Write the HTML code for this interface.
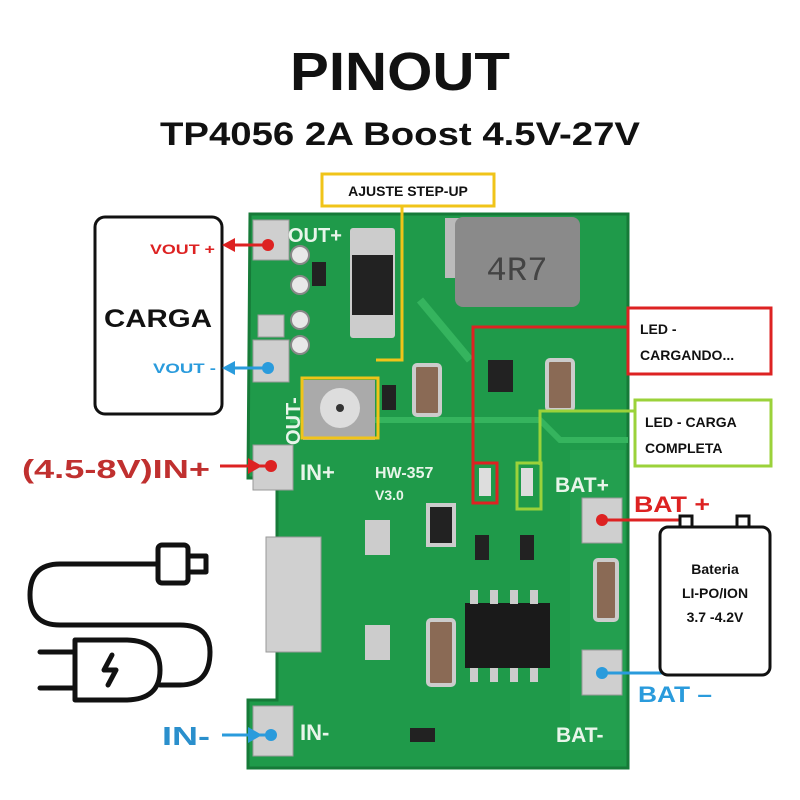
<!DOCTYPE html>
<html><head><meta charset="utf-8"><style>
body{margin:0;background:#fff;}
svg{display:block;font-family:"Liberation Sans",sans-serif;}
</style></head><body>
<svg width="800" height="800" viewBox="0 0 800 800" xmlns="http://www.w3.org/2000/svg">
<rect width="800" height="800" fill="#fff"/>
<text x="290" y="90" font-size="54" font-weight="bold" fill="#111" textLength="220" lengthAdjust="spacingAndGlyphs">PINOUT</text>
<text x="160" y="145" font-size="32" font-weight="bold" fill="#111" textLength="480" lengthAdjust="spacingAndGlyphs">TP4056 2A Boost 4.5V-27V</text>

<!-- PCB -->
<path d="M250,214 H628 V768 H248 V700 H277 V478 H248 Z" fill="#1f9a4a"/>
<path d="M250,214 H628 V768 H248 V700 H277 V478 H248 Z" fill="none" stroke="#167a38" stroke-width="3"/>
<path d="M290,420 H540 L560,440 H628" stroke="#35b45e" stroke-width="6" fill="none"/>
<path d="M420,300 L470,360" stroke="#35b45e" stroke-width="8"/>
<rect x="570" y="450" width="55" height="300" fill="#239f4f"/>
<g fill="#cfcfcf" stroke="#999">
<rect x="253" y="220" width="36" height="40"/>
<rect x="253" y="340" width="36" height="42"/>
<rect x="253" y="445" width="40" height="45"/>
<rect x="253" y="706" width="40" height="50"/>
<rect x="582" y="498" width="40" height="45"/>
<rect x="582" y="650" width="40" height="45"/>
<rect x="258" y="315" width="26" height="22"/>
</g>
<g fill="#e8e8e8" stroke="#888" stroke-width="2">
<circle cx="300" cy="255" r="9"/><circle cx="300" cy="285" r="9"/><circle cx="300" cy="320" r="9"/><circle cx="300" cy="345" r="9"/>
</g>
<circle cx="268" cy="245" r="6" fill="#d22"/>
<circle cx="268" cy="368" r="6" fill="#2a9bdc"/>
<circle cx="271" cy="466" r="6" fill="#d22"/>
<circle cx="271" cy="735" r="6" fill="#2a9bdc"/>
<circle cx="602" cy="520" r="6" fill="#d22"/>
<circle cx="602" cy="673" r="6" fill="#2a9bdc"/>
<rect x="350" y="228" width="45" height="110" fill="#ccc" rx="3"/>
<rect x="352" y="255" width="41" height="60" fill="#222"/>
<rect x="312" y="262" width="14" height="24" fill="#222"/>
<rect x="445" y="218" width="28" height="60" fill="#bbb"/>
<rect x="555" y="236" width="20" height="50" fill="#bbb"/>
<rect x="455" y="217" width="125" height="90" rx="8" fill="#8a8a8a"/>
<text x="517" y="280" text-anchor="middle" font-size="34" fill="#444" font-family="Liberation Mono,monospace">4R7</text>
<g fill="#8a6a55" stroke="#ccc" stroke-width="4">
<rect x="414" y="365" width="26" height="50" rx="3"/>
<rect x="547" y="360" width="26" height="50" rx="3"/>
<rect x="595" y="560" width="22" height="60" rx="3"/>
<rect x="428" y="620" width="26" height="65" rx="3"/>
</g>
<rect x="488" y="360" width="25" height="32" fill="#222"/>
<rect x="428" y="505" width="26" height="40" fill="#222" stroke="#ccc" stroke-width="4"/>
<rect x="303" y="380" width="72" height="60" fill="#aaa"/>
<circle cx="340" cy="408" r="20" fill="#ddd"/>
<circle cx="340" cy="408" r="4" fill="#333"/>
<rect x="382" y="385" width="14" height="25" fill="#222"/>
<rect x="266" y="537" width="55" height="115" fill="#d0d0d0" stroke="#999"/>
<rect x="365" y="520" width="25" height="35" fill="#ccc"/>
<rect x="365" y="625" width="25" height="35" fill="#ccc"/>
<rect x="465" y="603" width="85" height="65" fill="#1a1a1a"/>
<g fill="#ccc"><rect x="470" y="590" width="8" height="14"/><rect x="490" y="590" width="8" height="14"/><rect x="510" y="590" width="8" height="14"/><rect x="530" y="590" width="8" height="14"/>
<rect x="470" y="668" width="8" height="14"/><rect x="490" y="668" width="8" height="14"/><rect x="510" y="668" width="8" height="14"/><rect x="530" y="668" width="8" height="14"/></g>
<rect x="475" y="535" width="14" height="25" fill="#222"/>
<rect x="520" y="535" width="14" height="25" fill="#222"/>
<rect x="410" y="728" width="25" height="14" fill="#222"/>
<rect x="479" y="468" width="12" height="28" fill="#ddd"/>
<rect x="521" y="468" width="12" height="28" fill="#ddd"/>
<g fill="#e8f5ea" font-weight="bold">
<text x="288" y="242" font-size="20">OUT+</text>
<text x="300" y="480" font-size="22">IN+</text>
<text x="300" y="740" font-size="22">IN-</text>
<text x="375" y="478" font-size="16">HW-357</text>
<text x="375" y="500" font-size="14">V3.0</text>
<text x="555" y="492" font-size="21">BAT+</text>
<text x="556" y="742" font-size="21">BAT-</text>
<text transform="translate(300,445) rotate(-90)" font-size="20">OUT-</text>
</g>

<rect x="95" y="217" width="127" height="197" rx="10" fill="#fff" stroke="#111" stroke-width="3"/>
<text x="104" y="327" font-size="25" font-weight="bold" fill="#111" textLength="108" lengthAdjust="spacingAndGlyphs">CARGA</text>
<text x="150" y="254" font-size="14" font-weight="bold" fill="#d22" textLength="65" lengthAdjust="spacingAndGlyphs">VOUT +</text>
<text x="153" y="373" font-size="14" font-weight="bold" fill="#2a9bdc" textLength="63" lengthAdjust="spacingAndGlyphs">VOUT -</text>
<line x1="232" y1="245" x2="268" y2="245" stroke="#d22" stroke-width="3"/>
<polygon points="222,245 235,238 235,252" fill="#d22"/>
<line x1="232" y1="368" x2="268" y2="368" stroke="#2a9bdc" stroke-width="3"/>
<polygon points="222,368 235,361 235,375" fill="#2a9bdc"/>

<text x="22" y="478" font-size="26" font-weight="bold" fill="#c0302f" textLength="188" lengthAdjust="spacingAndGlyphs">(4.5-8V)IN+</text>
<line x1="220" y1="466" x2="268" y2="466" stroke="#d22" stroke-width="3"/>
<polygon points="262,466 248,458 248,474" fill="#d22"/>
<text x="162" y="745" font-size="26" font-weight="bold" fill="#2a8fcc" textLength="48" lengthAdjust="spacingAndGlyphs">IN-</text>
<line x1="222" y1="735" x2="268" y2="735" stroke="#2a9bdc" stroke-width="3"/>
<polygon points="262,735 248,727 248,743" fill="#2a9bdc"/>

<rect x="322" y="174" width="172" height="32" fill="#fff" stroke="#f0c419" stroke-width="3"/>
<text x="408" y="196" text-anchor="middle" font-size="14" font-weight="bold" fill="#111">AJUSTE STEP-UP</text>
<polyline points="402,206 402,360 376,360" fill="none" stroke="#f0c419" stroke-width="3"/>
<rect x="302" y="378" width="76" height="60" fill="none" stroke="#f0c419" stroke-width="3"/>

<rect x="628" y="308" width="143" height="66" fill="#fff" stroke="#d22" stroke-width="3"/>
<text x="640" y="334" font-size="14" font-weight="bold" fill="#111">LED -</text>
<text x="640" y="360" font-size="14" font-weight="bold" fill="#111">CARGANDO...</text>
<polyline points="628,327 473,327 473,465" fill="none" stroke="#d22" stroke-width="3"/>
<rect x="473" y="463" width="24" height="40" fill="none" stroke="#d22" stroke-width="3"/>

<rect x="635" y="400" width="136" height="66" fill="#fff" stroke="#9bd23a" stroke-width="3"/>
<text x="645" y="427" font-size="14" font-weight="bold" fill="#111">LED - CARGA</text>
<text x="645" y="453" font-size="14" font-weight="bold" fill="#111">COMPLETA</text>
<polyline points="635,411 540,411 540,465" fill="none" stroke="#9bd23a" stroke-width="3"/>
<rect x="517" y="463" width="24" height="46" fill="none" stroke="#9bd23a" stroke-width="3"/>

<text x="634" y="512" font-size="22" font-weight="bold" fill="#d22" textLength="76" lengthAdjust="spacingAndGlyphs">BAT +</text>
<line x1="602" y1="520" x2="680" y2="520" stroke="#d22" stroke-width="3"/>
<text x="638" y="702" font-size="22" font-weight="bold" fill="#2a9bdc" textLength="74" lengthAdjust="spacingAndGlyphs">BAT –</text>
<line x1="602" y1="673" x2="662" y2="673" stroke="#2a9bdc" stroke-width="3"/>

<rect x="680" y="516" width="12" height="12" fill="#fff" stroke="#111" stroke-width="3"/>
<rect x="737" y="516" width="12" height="12" fill="#fff" stroke="#111" stroke-width="3"/>
<rect x="660" y="527" width="110" height="148" rx="8" fill="#fff" stroke="#111" stroke-width="3"/>
<text x="715" y="574" text-anchor="middle" font-size="14" font-weight="bold" fill="#111">Bateria</text>
<text x="715" y="598" text-anchor="middle" font-size="14" font-weight="bold" fill="#111">LI-PO/ION</text>
<text x="715" y="622" text-anchor="middle" font-size="14" font-weight="bold" fill="#111">3.7 -4.2V</text>

<g fill="none" stroke="#111" stroke-width="5" stroke-linecap="round" stroke-linejoin="round">
<rect x="158" y="545" width="30" height="38" rx="4"/>
<path d="M188,556 h18 v16 h-18"/>
<path d="M158,564 H60 Q30,564 30,595 Q30,625 60,625 H180 Q210,625 210,652 Q210,685 180,685 H160"/>
<path d="M75,640 h50 Q160,640 160,670 Q160,700 125,700 h-50 Z"/>
<path d="M75,652 H40 M75,688 H40"/>
<path d="M112,655 l-8,15 h12 l-8,15"/>
</g>
</svg>
</body></html>
